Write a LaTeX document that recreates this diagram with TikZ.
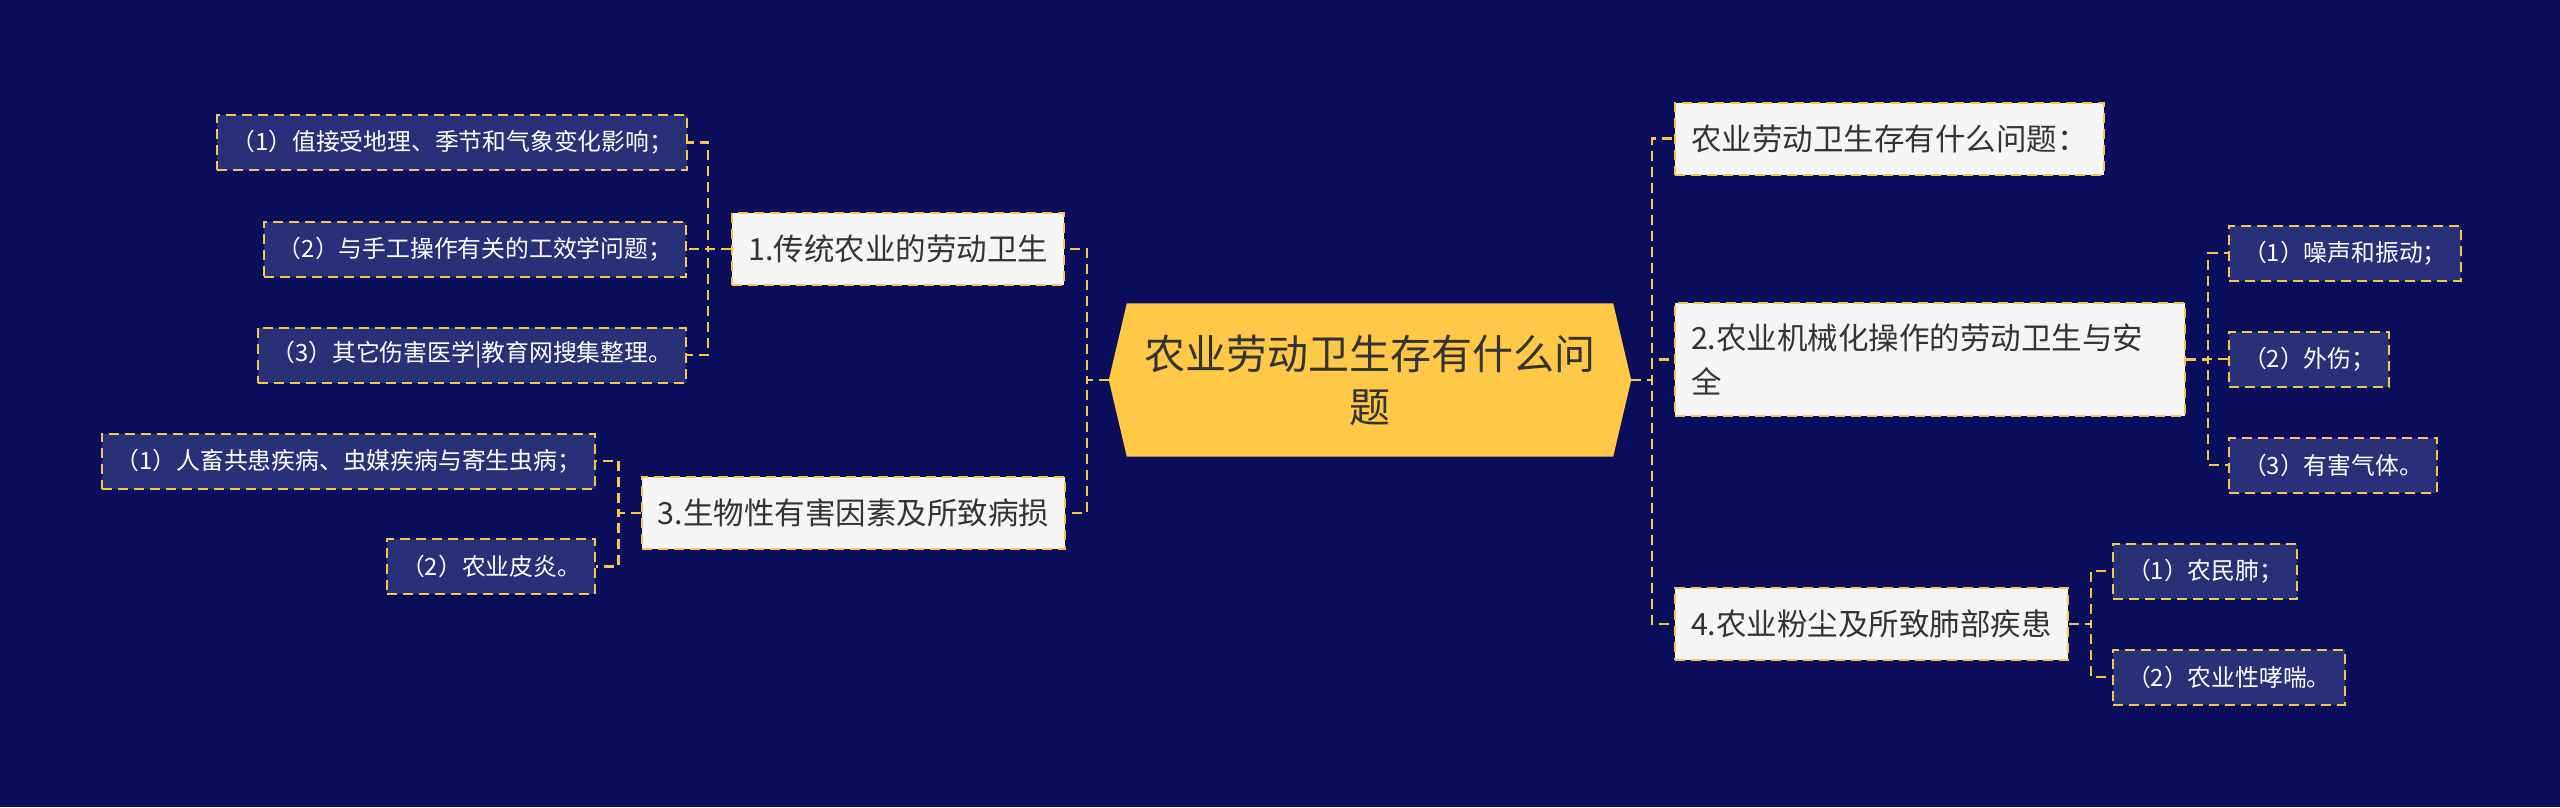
\documentclass[tikz,border=0pt]{standalone}
\usepackage{fontspec}
\setmainfont{Noto Sans CJK SC}
\usetikzlibrary{backgrounds}
\definecolor{pagebg}{HTML}{0B0F5B}
\definecolor{rootfill}{HTML}{FFC846}
\definecolor{topicfill}{HTML}{F5F5F5}
\definecolor{leaffill}{HTML}{283077}
\definecolor{linkyellow}{HTML}{F8C74A}
\definecolor{darktext}{HTML}{333333}

\begin{document}
\begin{tikzpicture}[x=1pt, y=-1pt,
  roottext/.style={minimum width=522pt, minimum height=153pt, inner sep=0pt,
    align=center, text=darktext, font=\fontsize{41}{53}\selectfont},
  topic/.style={draw=linkyellow, line width=2pt, dash pattern=on 10pt off 6pt,
    fill=topicfill, text=darktext, font=\fontsize{30.5}{44}\selectfont,
    inner xsep=16pt, minimum height=72pt},
  leaf/.style={draw=linkyellow, line width=2pt, dash pattern=on 10pt off 6pt,
    fill=leaffill, text=white, font=\fontsize{23.8}{30}\selectfont,
    inner xsep=14pt, minimum height=55pt},
  link/.style={draw=linkyellow, line width=2.5pt, dash pattern=on 10pt off 6pt}]
\useasboundingbox (0,0) rectangle (2560,807);

\node[roottext] (root) at (1370,380) {农业劳动卫生存有什么问\\题};

% left branches
\node[topic, anchor=east] (t1) at (1065,249) {1.传统农业的劳动卫生};
\node[topic, anchor=east] (t3) at (1066,513) {3.生物性有害因素及所致病损};
\node[leaf, anchor=east] (a1) at (688,142.5) {（1）值接受地理、季节和气象变化影响；};
\node[leaf, anchor=east] (a2) at (687,249) {（2）与手工操作有关的工效学问题；};
\node[leaf, anchor=east] (a3) at (687,355) {（3）其它伤害医学|教育网搜集整理。};
\node[leaf, anchor=east] (b1) at (596,461) {（1）人畜共患疾病、虫媒疾病与寄生虫病；};
\node[leaf, anchor=east] (b2) at (596,566.5) {（2）农业皮炎。};

% right branches
\node[topic, anchor=west] (t0) at (1674,138.5) {农业劳动卫生存有什么问题：};
\node[topic, anchor=west, text width=478pt, align=left, minimum height=113pt]
  (t2) at (1674,359.5) {2.农业机械化操作的劳动卫生与安\\全};
\node[topic, anchor=west] (t4) at (1674,624) {4.农业粉尘及所致肺部疾患};
\node[leaf, anchor=west] (c1) at (2228,253) {（1）噪声和振动；};
\node[leaf, anchor=west] (c2) at (2228,359) {（2）外伤；};
\node[leaf, anchor=west] (c3) at (2228,465) {（3）有害气体。};
\node[leaf, anchor=west] (d1) at (2112,571) {（1）农民肺；};
\node[leaf, anchor=west] (d2) at (2112,677) {（2）农业性哮喘。};

\begin{scope}[on background layer]
  \fill[pagebg] (0,0) rectangle (2560,807);
  % hexagon behind the root text
  \fill[rootfill] ([xshift=18pt]root.north west) -- ([xshift=-18pt]root.north east)
    -- (root.east) -- ([xshift=-18pt]root.south east)
    -- ([xshift=18pt]root.south west) -- (root.west) -- cycle;
\end{scope}

% connectors
\foreach \t in {t1,t3} {
  \draw[link] (root.west) -- ++(-22,0) |- (\t.east);
}
\foreach \t in {t0,t2,t4} {
  \draw[link] (root.east) -- ++(21,0) |- (\t.west);
}
\foreach \c in {a1,a2,a3} {
  \draw[link] (t1.west) -- ++(-23,0) |- (\c.east);
}
\foreach \c in {b1,b2} {
  \draw[link] (t3.west) -- ++(-22,0) |- (\c.east);
}
\foreach \c in {c1,c2,c3} {
  \draw[link] (t2.east) -- ++(22,0) |- (\c.west);
}
\foreach \c in {d1,d2} {
  \draw[link] (t4.east) -- ++(22,0) |- (\c.west);
}
\end{tikzpicture}
\end{document}
